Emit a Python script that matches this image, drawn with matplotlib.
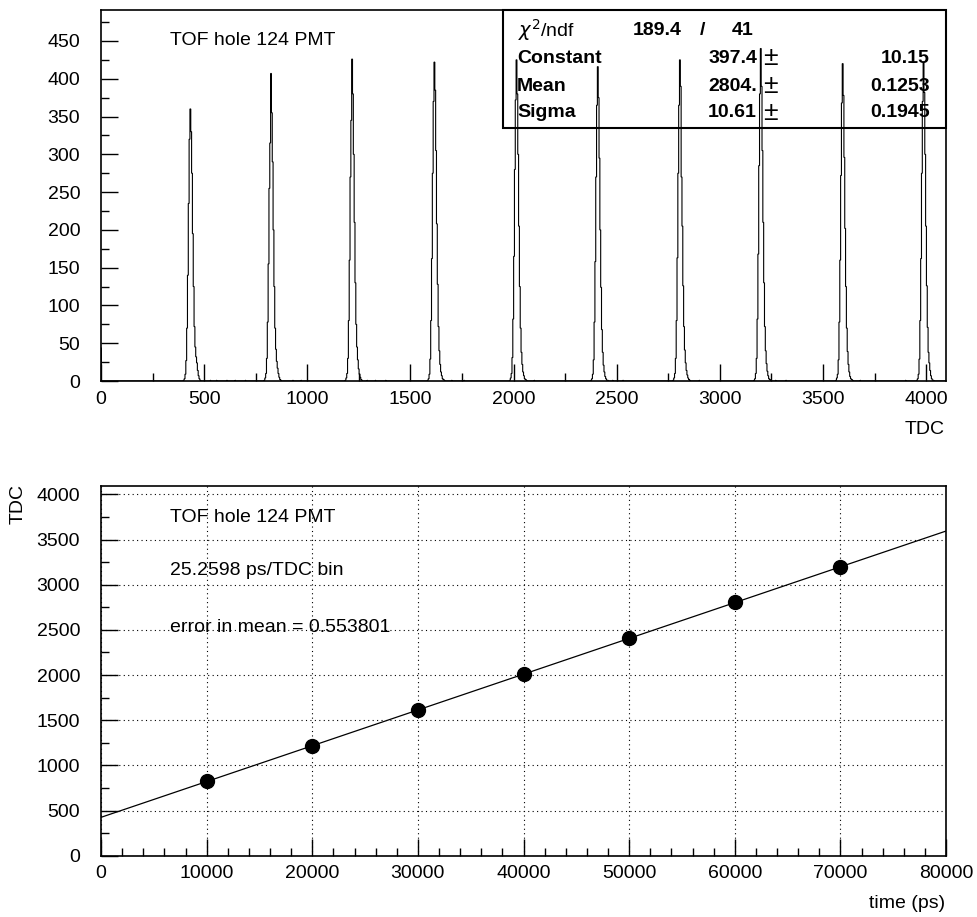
import matplotlib
matplotlib.use("Agg")
import matplotlib.pyplot as plt
import numpy as np
from matplotlib.ticker import MultipleLocator
from matplotlib.patches import Rectangle

plt.rcParams['font.family'] = ['Liberation Sans', 'DejaVu Sans']

# datos del histograma (canales TDC, 4096 bins)
n_bins = 4096
primer_bin = 44
centros = [431, 822, 1215, 1614, 2012, 2406, 2804, 3196, 3593, 3985]
# cuentas cada 4 canales, desde centro-32 hasta centro+48
pico1 = [1, 3, 9, 27, 70, 140, 235, 320, 360, 330, 275, 195, 125, 72, 45, 32, 24, 14, 7, 3, 1]
pico2 = [1, 4, 10, 30, 78, 155, 255, 315, 407, 355, 290, 200, 125, 70, 42, 26, 17, 10, 5, 2, 1]
pico3 = [1, 4, 10, 30, 80, 160, 270, 345, 426, 380, 300, 210, 130, 75, 45, 28, 16, 9, 5, 2, 1]
pico4 = [1, 3, 9, 29, 80, 162, 275, 370, 422, 385, 305, 208, 128, 72, 40, 22, 12, 7, 3, 2, 1]
pico5 = [1, 4, 10, 31, 82, 165, 280, 372, 425, 380, 300, 205, 125, 70, 38, 22, 12, 7, 3, 2, 1]
pico6 = [1, 3, 9, 28, 78, 158, 270, 365, 416, 375, 295, 200, 124, 68, 38, 21, 12, 6, 3, 1, 1]
pico7 = [1, 4, 10, 30, 80, 163, 275, 365, 425, 390, 270, 205, 126, 72, 41, 24, 14, 8, 4, 2, 1]
pico8 = [1, 3, 10, 30, 82, 168, 285, 380, 440, 390, 305, 210, 130, 72, 40, 23, 13, 7, 3, 2, 1]
pico9 = [1, 4, 9, 28, 78, 160, 272, 368, 420, 378, 296, 202, 125, 70, 39, 22, 12, 6, 3, 2, 1]
pico10 = [1, 3, 9, 29, 80, 162, 275, 370, 422, 382, 300, 205, 126, 71, 38, 24, 14, 7, 3, 1, 1]
picos = [pico1, pico2, pico3, pico4, pico5, pico6, pico7, pico8, pico9, pico10]
fondo = [(530, 1), (560, 1), (610, 1), (650, 1), (700, 1), (930, 1), (970, 1), (1290, 1),
         (1330, 1), (1380, 1), (1700, 1), (1760, 1), (2100, 1), (2480, 1), (2530, 1),
         (2900, 1), (3270, 1), (3320, 1), (3680, 1), (3900, 1)]

# calibracion
tiempos = [10000, 20000, 30000, 40000, 50000, 60000, 70000]
medias = [822, 1215, 1614, 2012, 2406, 2804, 3196]

cuentas = np.zeros(n_bins)
cuentas[0] = primer_bin
for pos, v in fondo:
    cuentas[pos] = v
for c, prof in zip(centros, picos):
    for k, v in enumerate(prof):
        ini = c - 32 + 4 * k
        cuentas[ini:min(ini + 4, n_bins)] = v

fig = plt.figure(figsize=(9.77, 9.17), dpi=100)

# ---- histograma ----
ax1 = fig.add_axes([0.1034, 0.5845, 0.8649, 0.4046])
ax1.stairs(cuentas, np.arange(n_bins + 1), color="black", lw=0.8)
ax1.set_xlim(0, 4096)
ax1.set_ylim(0, 491)
ax1.xaxis.set_major_locator(MultipleLocator(500))
ax1.xaxis.set_minor_locator(MultipleLocator(250))
ax1.yaxis.set_major_locator(MultipleLocator(50))
ax1.yaxis.set_minor_locator(MultipleLocator(25))
ax1.text(0.0817, 0.919, "TOF hole 124 PMT", transform=ax1.transAxes, fontsize=14, va="center")

# caja de estadisticas
ax1.add_patch(Rectangle((0.4757, 0.682), 0.5243, 0.318, transform=ax1.transAxes,
                        fill=False, lw=1.5, ec="black", clip_on=False))
ax1.text(0.4935, 0.946, r"$\chi^{2}$/ndf", transform=ax1.transAxes, fontsize=14, va="center")
ax1.text(0.6876, 0.946, "189.4", transform=ax1.transAxes, fontsize=14, weight="bold", va="center", ha="right")
ax1.text(0.712, 0.946, "/", transform=ax1.transAxes, fontsize=14, weight="bold", va="center", ha="center")
ax1.text(0.7716, 0.946, "41", transform=ax1.transAxes, fontsize=14, weight="bold", va="center", ha="right")
filas = [("Constant", "397.4", "10.15"), ("Mean", "2804.", "0.1253"), ("Sigma", "10.61", "0.1945")]
for (nom, val, err), yy in zip(filas, [0.8706, 0.7951, 0.7224]):
    ax1.text(0.4923, yy, nom, transform=ax1.transAxes, fontsize=14, weight="bold", va="center")
    ax1.text(0.7763, yy, val, transform=ax1.transAxes, fontsize=14, weight="bold", va="center", ha="right")
    ax1.text(0.7917, yy, "±", transform=ax1.transAxes, fontsize=19, va="center", ha="center")
    ax1.text(0.981, yy, err, transform=ax1.transAxes, fontsize=14, weight="bold", va="center", ha="right")

fig.text(945 / 977, 1 - 430 / 917, "TDC", fontsize=14, ha="right", va="center")

# ---- calibracion ----
ax2 = fig.add_axes([0.1034, 0.0668, 0.8649, 0.4035])
coef = np.polyfit(tiempos, medias, 1)
xl = np.array([0, 80000])
ax2.plot(xl, np.polyval(coef, xl), color="black", lw=0.9)
ax2.plot(tiempos, medias, "o", color="black", ms=10)
ax2.set_xlim(0, 80000)
ax2.set_ylim(0, 4096)
ax2.xaxis.set_major_locator(MultipleLocator(10000))
ax2.xaxis.set_minor_locator(MultipleLocator(2000))
ax2.yaxis.set_major_locator(MultipleLocator(500))
ax2.yaxis.set_minor_locator(MultipleLocator(250))
ax2.grid(True, which="major", color="black", linestyle=(0, (1, 3)), lw=0.8)
ax2.text(0.0817, 0.9154, "TOF hole 124 PMT", transform=ax2.transAxes, fontsize=14, va="center")
ax2.text(0.0817, 0.7722, "25.2598 ps/TDC bin", transform=ax2.transAxes, fontsize=14, va="center")
ax2.text(0.0817, 0.6181, "error in mean = 0.553801", transform=ax2.transAxes, fontsize=14, va="center")

fig.text(945 / 977, 1 - 903 / 917, "time (ps)", fontsize=14, ha="right", va="center")
fig.text(18 / 977, 1 - 504 / 917, "TDC", fontsize=14, ha="center", va="center", rotation=90)

for ax in (ax1, ax2):
    for s in ax.spines.values():
        s.set_linewidth(1.2)
    ax.tick_params(which="both", direction="in", top=False, right=False, labelsize=14, width=1)
    ax.tick_params(axis="y", which="major", length=12, pad=15)
    ax.tick_params(axis="y", which="minor", length=6)
    ax.tick_params(axis="x", which="major", length=12, pad=7)
    ax.tick_params(axis="x", which="minor", length=6)

fig.savefig("out.png", dpi=100)
